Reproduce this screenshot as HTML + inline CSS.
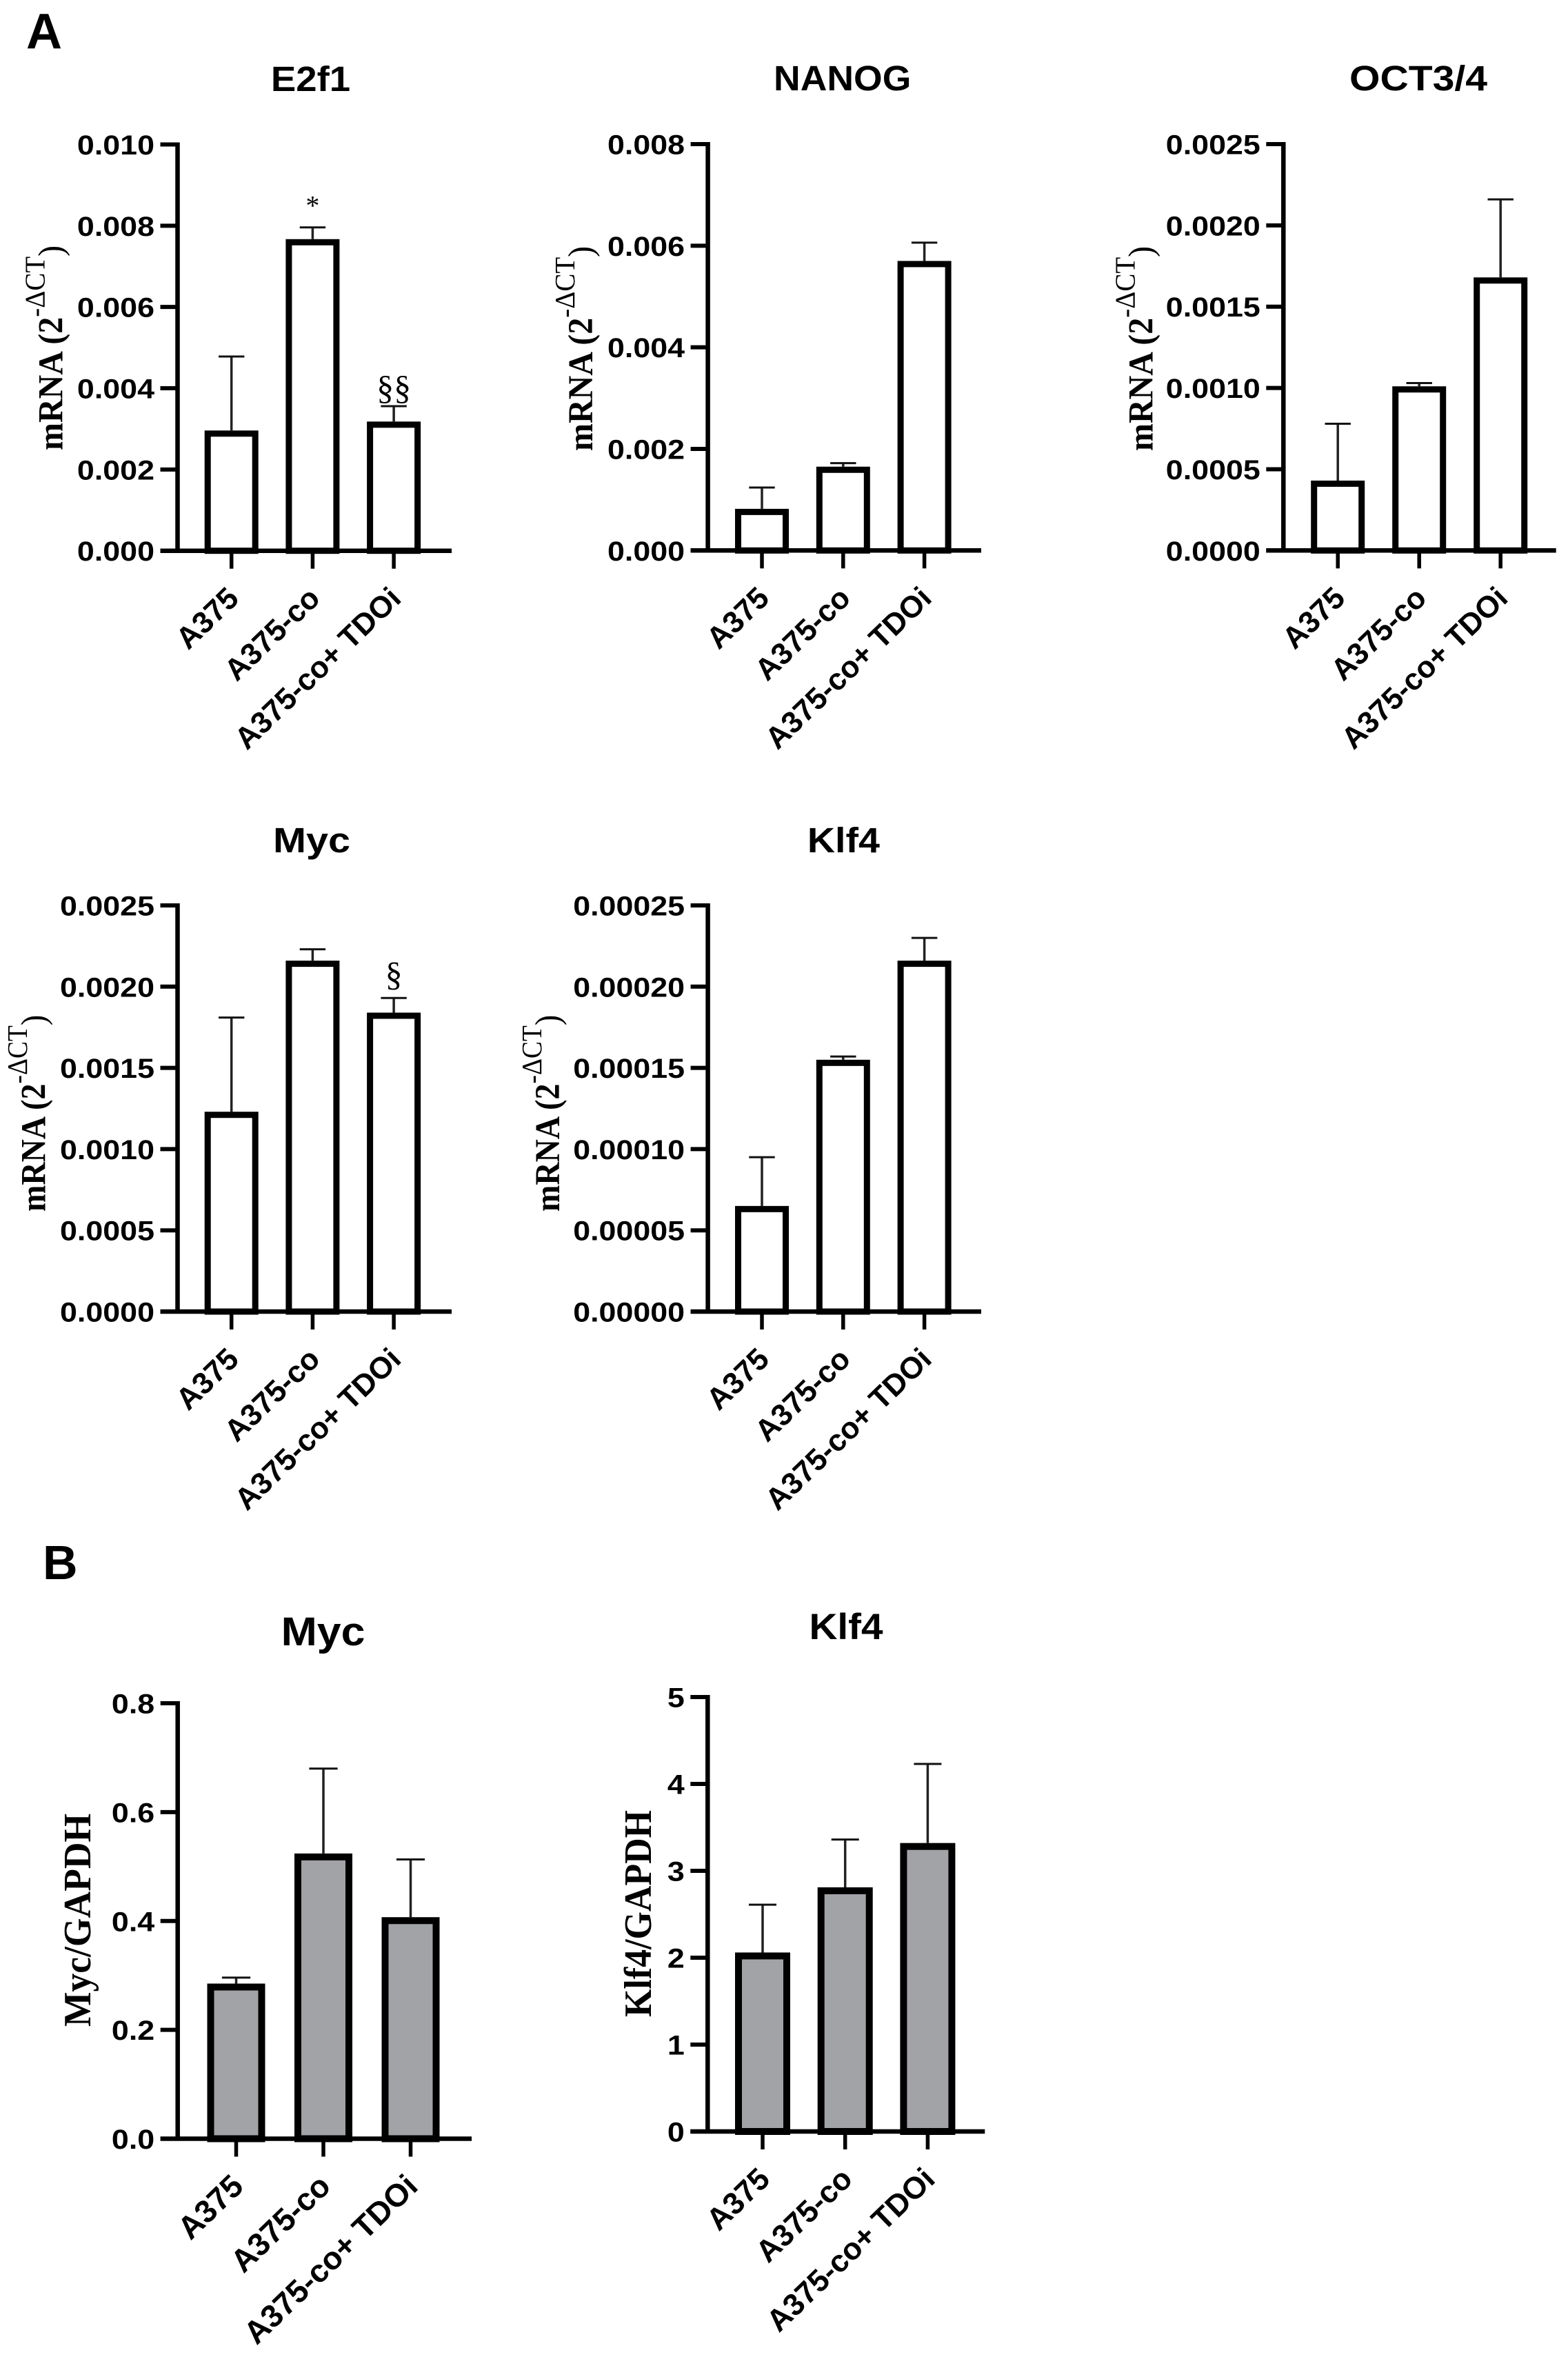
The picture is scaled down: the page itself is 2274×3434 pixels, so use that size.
<!DOCTYPE html>
<html lang="en">
<head>
<meta charset="utf-8">
<title>mRNA expression bar charts</title>
<style>
  html, body { margin: 0; padding: 0; background: #fff; }
  svg { display: block; }
  text { fill: #000; }
  .sans { font-family: "Liberation Sans", Arial, sans-serif; font-weight: 700; }
  .serif { font-family: "Liberation Serif", "Times New Roman", serif; }
</style>
</head>
<body>
<svg id="figure" width="2274" height="3434" viewBox="0 0 2274 3434" xmlns="http://www.w3.org/2000/svg">
  <rect x="0" y="0" width="2274" height="3434" fill="#ffffff"/>
  <text class="sans" x="38" y="70" font-size="72">A</text>
  <text class="sans" x="62" y="2290" font-size="70">B</text>
</svg>
<script>
// Shared category labels
const categories = ['A375', 'A375-co', 'A375-co+ TDOi'];

// Panel A: E2f1
const e2f1Values = [0.00296, 0.00767, 0.00318];
const e2f1ErrorTops = [0.00478, 0.00796, 0.00356];
const e2f1Ticks = ['0.000', '0.002', '0.004', '0.006', '0.008', '0.010'];

// Panel A: NANOG
const nanogValues = [0.00082, 0.00165, 0.00570];
const nanogErrorTops = [0.00124, 0.00172, 0.00606];
const nanogTicks = ['0.000', '0.002', '0.004', '0.006', '0.008'];

// Panel A: OCT3/4
const octValues = [0.00043, 0.00101, 0.00168];
const octErrorTops = [0.00078, 0.00103, 0.00216];
const octTicks = ['0.0000', '0.0005', '0.0010', '0.0015', '0.0020', '0.0025'];

// Panel A: Myc
const mycValues = [0.00123, 0.00216, 0.00184];
const mycErrorTops = [0.00181, 0.00223, 0.00193];
const mycTicks = ['0.0000', '0.0005', '0.0010', '0.0015', '0.0020', '0.0025'];

// Panel A: Klf4
const klf4Values = [0.000065, 0.000155, 0.000216];
const klf4ErrorTops = [0.000095, 0.000157, 0.000230];
const klf4Ticks = ['0.00000', '0.00005', '0.00010', '0.00015', '0.00020', '0.00025'];

// Panel B: Myc/GAPDH
const mycGapdhValues = [0.285, 0.524, 0.407];
const mycGapdhErrorTops = [0.296, 0.68, 0.513];
const mycGapdhTicks = ['0.0', '0.2', '0.4', '0.6', '0.8'];

// Panel B: Klf4/GAPDH
const klf4GapdhValues = [2.06, 2.81, 3.32];
const klf4GapdhErrorTops = [2.61, 3.36, 4.23];
const klf4GapdhTicks = ['0', '1', '2', '3', '4', '5'];

const NS = 'http://www.w3.org/2000/svg';
const figure = document.getElementById('figure');

function make(tag, attrs, parent) {
  const el = document.createElementNS(NS, tag);
  for (const k in attrs) el.setAttribute(k, attrs[k]);
  parent.appendChild(el);
  return el;
}

function drawChart(c) {
  const group = make('g', {}, figure);
  
  

  const maxTick = parseFloat(c.ticks[c.ticks.length - 1]);
  const yScale = v => c.base - (v / maxTick) * (c.base - c.top);
  const xScale = i => c.barX[0] + i * (c.barX[1] - c.barX[0]);

  const title = make('text', {
    class: 'sans', x: 0, y: 0, 'text-anchor': 'middle', 'font-size': c.titleSize,
    transform: 'translate(' + c.titleX + ',' + c.titleY + ') scale(' + c.titleStretch + ',1)'
  }, group);
  title.textContent = c.title;
  
  

  c.values.forEach((v, i) => {
    const cx = xScale(i);
    const errTop = yScale(c.errorTops[i]);
    const barTop = yScale(v);

    const stem = make('line', { x1: cx, x2: cx, y1: errTop, y2: barTop, stroke: '#222', 'stroke-width': 3.5 }, group);
    
    

    const cap = make('line', { x1: cx - c.capHalf, x2: cx + c.capHalf, y1: errTop, y2: errTop, stroke: '#111', 'stroke-width': 3 }, group);
    
    

    const inset = c.barStroke / 2;
    const bar = make('rect', {
      x: cx - c.barWidth / 2 + inset,
      y: barTop + inset,
      width: c.barWidth - c.barStroke,
      height: Math.max(0, c.base - barTop - inset),
      fill: c.fill, stroke: '#000', 'stroke-width': c.barStroke
    }, group);
    
    

    const xTick = make('line', { x1: cx, x2: cx, y1: c.base, y2: c.base + 26, stroke: '#000', 'stroke-width': 5.5 }, group);
    
    

    const label = make('text', {
      class: 'sans', x: 0, y: 0, 'text-anchor': 'end', 'font-size': c.xFont,
      transform: 'translate(' + (cx + 13) + ',' + (c.base + 72) + ') rotate(-44)'
    }, group);
    label.textContent = categories[i];
    
    
  });

  const yAxis = make('line', { x1: c.axisX, x2: c.axisX, y1: c.top - 3, y2: c.base + 3, stroke: '#000', 'stroke-width': 6.5 }, group);
  
  

  const xAxis = make('line', { x1: c.axisX - 25, x2: c.right, y1: c.base, y2: c.base, stroke: '#000', 'stroke-width': 6.5 }, group);
  
  

  c.ticks.forEach((t, i) => {
    const y = yScale(parseFloat(t));
    const tick = make('line', { x1: c.axisX - 25, x2: c.axisX, y1: y, y2: y, stroke: '#000', 'stroke-width': 6 }, group);
    
    

    const label = make('text', {
      class: 'sans', x: 0, y: 0, 'text-anchor': 'end', 'font-size': 40,
      transform: 'translate(' + (c.axisX - 33.5) + ',' + (y + 14.5) + ') scale(1.12,1)'
    }, group);
    label.textContent = t;
    
    
  });

  const lengthScale = c.yTitleLen || 1;
  const yTitle = make('text', {
    class: 'serif', x: 0, y: 0, 'font-weight': 700, 'font-size': c.gapdh ? 53 : 48,
    transform: 'translate(' + c.yTitleX + ',' + c.yTitleY + ') rotate(-90) scale(' + lengthScale + ',1.05)'
  }, group);
  
  
  if (c.gapdh) {
    yTitle.textContent = c.gapdh;
  } else {
    const a = make('tspan', {}, yTitle);
    a.textContent = 'mRNA (2';
    const b = make('tspan', { dy: -25, 'font-size': 39, 'font-weight': 400 }, yTitle);
    b.textContent = '-\u0394CT';
    const d = make('tspan', { dy: 25, 'font-weight': 400 }, yTitle);
    d.textContent = ')';
  }

  (c.marks || []).forEach(m => {
    const mark = make('text', {
      class: 'serif', x: xScale(m.bar), y: yScale(c.errorTops[m.bar]) - m.gap,
      'text-anchor': 'middle', 'font-size': m.size
    }, group);
    mark.textContent = m.text;
    
    
  });
}

drawChart({ id: 'e2f1', title: 'E2f1', titleX: 450.5, titleY: 132, titleSize: 51, titleStretch: 1.07, values: e2f1Values, errorTops: e2f1ErrorTops, ticks: e2f1Ticks,
  axisX: 257.5, top: 209.5, base: 798.7, right: 655, barX: [335.7, 453.4], barWidth: 78, barStroke: 9, capHalf: 18.7, fill: '#ffffff', xFont: 44,
  yTitleX: 90.7, yTitleY: 653,
  marks: [{ bar: 1, text: '*', size: 40, gap: 18 }, { bar: 2, text: '\u00a7\u00a7', size: 50, gap: 10 }] });

drawChart({ id: 'nanog', title: 'NANOG', titleX: 1221.7, titleY: 131, titleSize: 51, titleStretch: 1.05, values: nanogValues, errorTops: nanogErrorTops, ticks: nanogTicks,
  axisX: 1026.6, top: 209, base: 798.3, right: 1423, barX: [1105, 1222.8], barWidth: 78, barStroke: 9, capHalf: 18.7, fill: '#ffffff', xFont: 44,
  yTitleX: 859, yTitleY: 654 });

drawChart({ id: 'oct34', title: 'OCT3/4', titleX: 2057, titleY: 131, titleSize: 51, titleStretch: 1.12, values: octValues, errorTops: octErrorTops, ticks: octTicks,
  axisX: 1861.3, top: 209, base: 798.3, right: 2256.7, barX: [1940.2, 2058.2], barWidth: 78, barStroke: 9, capHalf: 18.7, fill: '#ffffff', xFont: 44,
  yTitleX: 1671.5, yTitleY: 654 });

drawChart({ id: 'myc', title: 'Myc', titleX: 452, titleY: 1236, titleSize: 51, titleStretch: 1.13, values: mycValues, errorTops: mycErrorTops, ticks: mycTicks,
  axisX: 257.5, top: 1313, base: 1902, right: 655, barX: [335.7, 453.4], barWidth: 78, barStroke: 9, capHalf: 18.7, fill: '#ffffff', xFont: 44,
  yTitleX: 65.4, yTitleY: 1757, yTitleLen: 0.96,
  marks: [{ bar: 2, text: '\u00a7', size: 50, gap: 18 }] });

drawChart({ id: 'klf4', title: 'Klf4', titleX: 1223.4, titleY: 1236, titleSize: 51, titleStretch: 1.09, values: klf4Values, errorTops: klf4ErrorTops, ticks: klf4Ticks,
  axisX: 1026.6, top: 1313, base: 1902, right: 1423, barX: [1105, 1222.8], barWidth: 78, barStroke: 9, capHalf: 18.7, fill: '#ffffff', xFont: 44,
  yTitleX: 811, yTitleY: 1757, yTitleLen: 0.96 });

drawChart({ id: 'myc-gapdh', title: 'Myc', titleX: 468.5, titleY: 2386, titleSize: 58, titleStretch: 1.08, values: mycGapdhValues, errorTops: mycGapdhErrorTops, ticks: mycGapdhTicks,
  axisX: 257.7, top: 2470, base: 3101.5, right: 684, barX: [342.5, 469], barWidth: 84, barStroke: 10, capHalf: 20.6, fill: '#a2a3a7', xFont: 46,
  yTitleX: 131, yTitleY: 2939, yTitleLen: 1.01, gapdh: 'Myc/GAPDH' });

drawChart({ id: 'klf4-gapdh', title: 'Klf4', titleX: 1227, titleY: 2377, titleSize: 53, titleStretch: 1.07, values: klf4GapdhValues, errorTops: klf4GapdhErrorTops, ticks: klf4GapdhTicks,
  axisX: 1026.3, top: 2461, base: 3091, right: 1428.3, barX: [1106, 1225.7], barWidth: 80, barStroke: 10, capHalf: 20, fill: '#a2a3a7', xFont: 44.5,
  yTitleX: 944, yTitleY: 2925, yTitleLen: 0.98, gapdh: 'Klf4/GAPDH' });
</script>
</body>
</html>
